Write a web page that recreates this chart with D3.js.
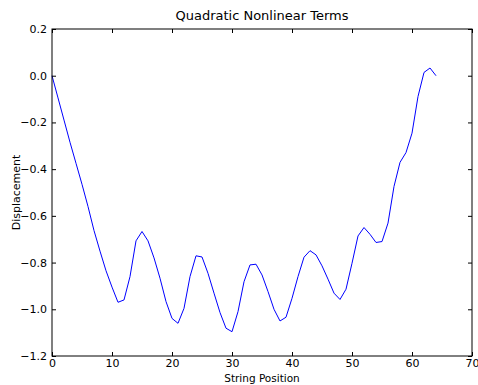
<!DOCTYPE html>
<html>
<head>
<meta charset="utf-8">
<script src="https://cdn.jsdelivr.net/npm/d3@7.9.0/dist/d3.min.js"></script>
<style>
  body { margin: 0; background: #fff; }
  svg { display: block; font-family: "DejaVu Sans", sans-serif; }
</style>
</head>
<body>
<div id="chart"></div>
<script>
// string position (x) and displacement (y)
const positions = d3.range(0, 65);
const displacement = [
  0.0, -0.095, -0.19, -0.285, -0.375, -0.465, -0.56, -0.663, -0.751, -0.835,
  -0.905, -0.97, -0.96, -0.86, -0.707, -0.667, -0.707, -0.78, -0.867, -0.967,
  -1.039, -1.06, -0.996, -0.86, -0.771, -0.776, -0.846, -0.931, -1.014, -1.081,
  -1.096, -1.01, -0.882, -0.81, -0.807, -0.853, -0.924, -1.0, -1.05, -1.034,
  -0.953, -0.86, -0.777, -0.749, -0.767, -0.814, -0.871, -0.931, -0.958, -0.914,
  -0.803, -0.686, -0.65, -0.679, -0.714, -0.71, -0.631, -0.474, -0.371, -0.329,
  -0.246, -0.089, 0.014, 0.033, 0.0
];
const xTicks = [0, 10, 20, 30, 40, 50, 60, 70];
const yTicks = [0.2, 0.0, -0.2, -0.4, -0.6, -0.8, -1.0, -1.2];

const width = 478;
const height = 385;
const margin = { top: 29, right: 6, bottom: 29, left: 52 };

const svg = d3.select('#chart')
  .append('svg')
  .attr('width', width)
  .attr('height', height);

const xScale = d3.scaleLinear().domain([0, 70]).range([margin.left, width - margin.right]);
const yScale = d3.scaleLinear().domain([-1.2, 0.2]).range([height - margin.bottom, margin.top]);

// data line
svg.append('path')
  .datum(positions.map((p, i) => [p, displacement[i]]))
  .attr('fill', 'none')
  .attr('stroke', '#0000ff')
  .attr('stroke-width', 1)
  .attr('d', d3.line().x(d => xScale(d[0])).y(d => yScale(d[1])));

// inward ticks on all four sides, labels only bottom/left
const tickLen = 4;
const bottomAxis = d3.axisBottom(xScale).tickValues(xTicks).tickSize(-tickLen).tickPadding(3).tickFormat(d3.format('d'));
const topAxis = d3.axisTop(xScale).tickValues(xTicks).tickSize(-tickLen).tickFormat('');
const leftAxis = d3.axisLeft(yScale).tickValues(yTicks).tickSize(-tickLen).tickPadding(5).tickFormat(d3.format('.1f'));
const rightAxis = d3.axisRight(yScale).tickValues(yTicks).tickSize(-tickLen).tickFormat('');

function styleAxis(g) {
  g.select('.domain').remove();
  g.selectAll('.tick line').attr('stroke', '#000');
  g.selectAll('.tick text').attr('font-size', 11).attr('fill', '#000').attr('font-family', '"DejaVu Sans", sans-serif');
}

svg.append('g').attr('transform', `translate(0, ${height - margin.bottom})`).call(bottomAxis).call(styleAxis);
svg.append('g').attr('transform', `translate(0, ${margin.top})`).call(topAxis).call(styleAxis);
svg.append('g').attr('transform', `translate(${margin.left}, 0)`).call(leftAxis).call(styleAxis);
svg.append('g').attr('transform', `translate(${width - margin.right}, 0)`).call(rightAxis).call(styleAxis);

// frame
svg.append('rect')
  .attr('x', margin.left)
  .attr('y', margin.top)
  .attr('width', width - margin.left - margin.right)
  .attr('height', height - margin.top - margin.bottom)
  .attr('fill', 'none')
  .attr('stroke', '#000')
  .attr('stroke-width', 1);

// title and axis labels
svg.append('text')
  .attr('x', (margin.left + width - margin.right) / 2)
  .attr('y', 20)
  .attr('text-anchor', 'middle')
  .attr('font-size', 13)
  .text('Quadratic Nonlinear Terms');

svg.append('text')
  .attr('x', (margin.left + width - margin.right) / 2)
  .attr('y', 382)
  .attr('text-anchor', 'middle')
  .attr('font-size', 10.5)
  .text('String Position');

svg.append('text')
  .attr('transform', `translate(20, ${(margin.top + height - margin.bottom) / 2}) rotate(-90)`)
  .attr('text-anchor', 'middle')
  .attr('font-size', 11)
  .text('Displacement');
</script>
</body>
</html>
